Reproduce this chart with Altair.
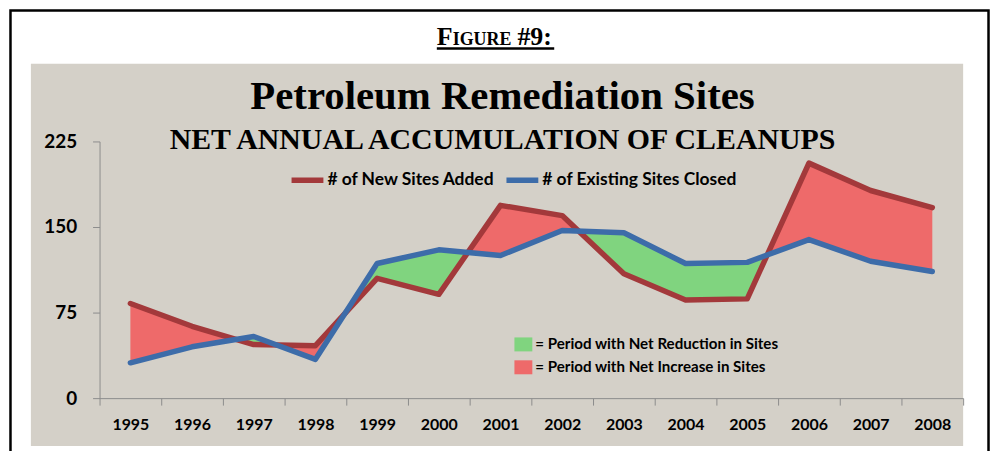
import altair as alt
import pandas as pd

# ---- data ----
years = [1995, 1996, 1997, 1998, 1999, 2000, 2001, 2002, 2003, 2004, 2005, 2006, 2007, 2008]
new_sites = [83, 63, 47, 46, 105, 91, 169, 160, 109, 86, 87, 206, 182, 167]
closed_sites = [31, 45, 54, 34, 118, 130, 125, 147, 145, 118, 119, 139, 120, 111]
series_names = ["# of New Sites Added", "# of Existing Sites Closed"]
fill_names = ["= Period with Net Reduction in Sites", "= Period with Net Increase in Sites"]
y_ticks = [0, 75, 150, 225]
title_line1 = "Petroleum Remediation Sites"
title_line2 = "NET ANNUAL ACCUMULATION OF CLEANUPS"
figure_parts = ["F", "IGURE", "#9:"]

# ---- colours ----
GRAY = "#d4d0c8"
RED_LINE = "#a3393b"
BLUE_LINE = "#3d6ca9"
GREEN_FILL = "#80d47f"
RED_FILL = "#ee6a6a"
FONT = "Lato"
SERIF = "Liberation Serif"

# ---- build the band table between the two series (split at crossings) ----
diff = [a - b for a, b in zip(new_sites, closed_sites)]
kind_of = lambda d: fill_names[1] if d > 0 else fill_names[0]
rows = []
run = 0
cur = kind_of(diff[0])
rows.append(dict(px=float(years[0]), hi=float(new_sites[0]), lo=float(closed_sites[0]), run=str(run), kind=cur))
for i in range(len(years) - 1):
    d0, d1 = diff[i], diff[i + 1]
    if (d0 > 0) != (d1 > 0):
        t = d0 / (d0 - d1)
        xc = years[i] + t
        yc = new_sites[i] + t * (new_sites[i + 1] - new_sites[i])
        rows.append(dict(px=xc, hi=yc, lo=yc, run=str(run), kind=cur))
        run += 1
        cur = kind_of(d1)
        rows.append(dict(px=xc, hi=yc, lo=yc, run=str(run), kind=cur))
    rows.append(dict(px=float(years[i + 1]), hi=float(new_sites[i + 1]), lo=float(closed_sites[i + 1]),
                     run=str(run), kind=cur))
band_df = pd.DataFrame(rows)

line_df = pd.DataFrame(
    {"year": years * 2,
     "value": new_sites + closed_sites,
     "series": [series_names[0]] * len(years) + [series_names[1]] * len(years)}
)

W, H = 868, 258
x_scale = alt.Scale(domain=[years[0] - 0.5, years[-1] + 0.5], nice=False, zero=False)
y_scale = alt.Scale(domain=[0, 225], nice=False)
x_ticks = [y - 0.5 for y in years] + [years[-1] + 0.5]

x_axis = alt.Axis(values=x_ticks, title=None, grid=False,
                  labelExpr="datum.value > %d ? '' : format(datum.value + 0.5, 'd')" % years[-1],
                  labelOffset=W / len(years) / 2, labelFlush=False, labelOverlap=False, labelBound=False,
                  labelFont=FONT, labelFontSize=16, labelFontWeight="bold", labelColor="black",
                  labelPadding=12, tickSize=7, tickColor="#8c8c8c", domainColor="#8c8c8c", zindex=1)
y_axis = alt.Axis(values=y_ticks, title=None, grid=False,
                  labelFont=FONT, labelFontSize=19, labelFontWeight="bold", labelColor="black",
                  labelPadding=16, tickSize=7, tickColor="#8c8c8c", domainColor="#8c8c8c", zindex=1)

stroke_scale = alt.Scale(domain=series_names, range=[RED_LINE, BLUE_LINE])
fill_scale = alt.Scale(domain=fill_names, range=[GREEN_FILL, RED_FILL])

stroke_legend = alt.Legend(orient="none", legendX=190, legendY=20, direction="horizontal", title=None,
                           symbolType="stroke", symbolSize=1024, symbolStrokeWidth=5.5,
                           labelFont=FONT, labelFontSize=17.5, labelFontWeight="bold", labelColor="black",
                           labelLimit=0, labelOffset=1, columnPadding=0, padding=0, zindex=1)
fill_legend = alt.Legend(orient="none", legendX=417, legendY=195, direction="vertical", title=None,
                         symbolType="M-1,-0.78L1,-0.78L1,0.78L-1,0.78Z", symbolSize=324,
                         symbolStrokeWidth=0, symbolOpacity=1,
                         labelFont=FONT, labelFontSize=15.2, labelFontWeight="bold", labelColor="black",
                         labelLimit=0, labelOffset=3, rowPadding=5, padding=0, zindex=1)

one = pd.DataFrame({"a": [0]})

background = alt.Chart(one).mark_rect(color=GRAY).encode(
    x=alt.value(-69), x2=alt.value(W), y=alt.value(-78), y2=alt.value(306))
frame = alt.Chart(one).mark_rect(fillOpacity=0, stroke="black", strokeWidth=2.5).encode(
    x=alt.value(-89.5), x2=alt.value(893.5), y=alt.value(-131.5), y2=alt.value(340))

bands = alt.Chart(band_df).mark_area(opacity=1).encode(
    x=alt.X("px:Q", scale=x_scale, axis=x_axis),
    y=alt.Y("hi:Q", scale=y_scale, axis=y_axis),
    y2=alt.Y2("lo"),
    fill=alt.Fill("kind:N", scale=fill_scale, legend=fill_legend),
    detail=alt.Detail("run:N"),
)

def line_layer(name):
    return alt.Chart(line_df).transform_filter(alt.datum.series == name).mark_line(
        strokeWidth=5.5, strokeJoin="round", strokeCap="round").encode(
        x=alt.X("year:Q", scale=x_scale, axis=x_axis),
        y=alt.Y("value:Q", scale=y_scale, axis=y_axis),
        stroke=alt.Stroke("series:N", scale=stroke_scale, legend=stroke_legend),
    )

red_line = line_layer(series_names[0])
blue_line = line_layer(series_names[1])

def text_layer(txt, x, y, size, align="center", font=SERIF):
    return alt.Chart(pd.DataFrame({"t": [txt]})).mark_text(
        font=font, fontSize=size, fontWeight="bold", color="black", align=align, baseline="alphabetic"
    ).encode(text="t:N", x=alt.value(x), y=alt.value(y))

t1 = text_layer(title_line1, 405, -33, 41)
t2 = text_layer(title_line2, 405, 8, 30)
f1 = text_layer(figure_parts[0], 339, -97, 26, align="left")
f2 = text_layer(figure_parts[1], 355, -97, 18, align="left")
f3 = text_layer(figure_parts[2], 420, -97, 26, align="left")
underline = alt.Chart(one).mark_rule(color="black", strokeWidth=2.5).encode(
    x=alt.value(339), x2=alt.value(457), y=alt.value(-93.5))

chart = alt.layer(
    frame, background, bands, red_line, blue_line, t1, t2, f1, f2, f3, underline
).properties(
    width=W, height=H,
    autosize=alt.AutoSizeParams(type="none"),
    padding={"left": 92, "top": 133, "right": 28, "bottom": 52},
    background="white",
).configure_view(stroke=None)

chart.save("out.html", embed_options={"renderer": "svg", "actions": False})
